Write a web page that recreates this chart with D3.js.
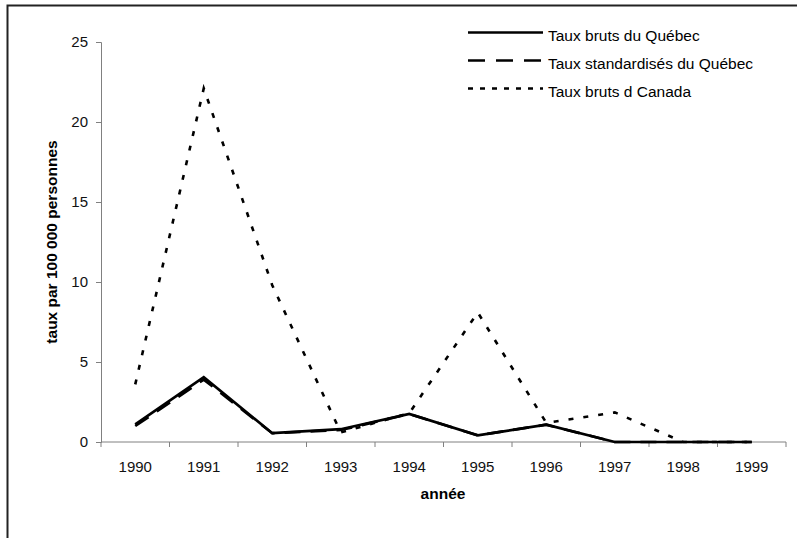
<!DOCTYPE html>
<meta charset="utf-8">
<script src="https://d3js.org/d3.v7.js"></script>
<style>
  body { margin: 0; background: #fff; }
  text { font-family: "Liberation Sans", Arial, sans-serif; }
</style>
<div id="my_dataviz"></div>
<script>

// data
var years = ["1990","1991","1992","1993","1994","1995","1996","1997","1998","1999"];
var brutsQuebec = [1.1, 4.05, 0.55, 0.8, 1.75, 0.42, 1.08, 0, 0, 0];
var standardQuebec = [1.0, 3.9, 0.55, 0.75, 1.75, 0.42, 1.08, 0, 0, 0];
var brutsCanada = [3.6, 22.1, 9.8, 0.6, 1.8, 8.1, 1.2, 1.85, 0, 0];
var yTicks = [0, 5, 10, 15, 20, 25];

var series = [
  {name: "Taux bruts du Québec", values: brutsQuebec, dash: null, legDash: null, width: 2.7},
  {name: "Taux standardisés du Québec", values: standardQuebec, dash: "16,10", legDash: "17,11", width: 2.7},
  {name: "Taux bruts d Canada", values: brutsCanada, dash: "5,10", legDash: "5,7", width: 2.6}
];

var W = 797, H = 538;
var margin = {top: 42, left: 101, right: 11, bottom: 96};

var svg = d3.select("#my_dataviz").append("svg")
    .attr("width", W)
    .attr("height", H);

// frame (top + left only visible)
svg.append("path")
  .attr("d", "M7.5,538V5.5H797")
  .attr("fill", "none")
  .attr("stroke", "#222")
  .attr("stroke-width", 2);

var xScale = d3.scaleBand()
    .domain(years)
    .range([margin.left, W - margin.right]);

var yScale = d3.scaleLinear()
    .domain([0, 25])
    .range([H - margin.bottom, margin.top]);

// y axis
var yAxis = d3.axisLeft(yScale).tickValues(yTicks).tickSize(5).tickPadding(8);
var gy = svg.append("g")
  .attr("transform", "translate(" + margin.left + ",0)")
  .call(yAxis);
gy.select(".domain").attr("stroke", "#808080");
gy.selectAll("line").attr("stroke", "#808080");
gy.selectAll("text").style("font-size", "15px").attr("fill", "#111")
  .style("font-family", "'Liberation Sans', Arial, sans-serif");

// x axis with ticks between categories
var xAxis = d3.axisBottom(xScale).tickSize(0);
var gx = svg.append("g")
  .attr("transform", "translate(0," + yScale(0) + ")")
  .call(xAxis);
gx.select(".domain").remove();
gx.selectAll("text").attr("y", 19).style("font-size", "15px").attr("fill", "#111")
  .style("font-family", "'Liberation Sans', Arial, sans-serif");
gx.append("line")
  .attr("x1", margin.left).attr("x2", W - margin.right)
  .attr("stroke", "#808080");
var bounds = years.map(function(d) { return xScale(d); }).concat([xScale(years[years.length - 1]) + xScale.bandwidth()]);
gx.selectAll(".sep")
  .data(bounds)
  .enter()
  .append("line")
    .attr("x1", function(d) { return d; })
    .attr("x2", function(d) { return d; })
    .attr("y1", 0)
    .attr("y2", 5)
    .attr("stroke", "#808080");

// axis titles
svg.append("text")
  .attr("transform", "translate(57," + ((margin.top + H - margin.bottom) / 2) + ")rotate(-90)")
  .attr("text-anchor", "middle")
  .style("font-size", "15.5px")
  .style("font-weight", "bold")
  .text("taux par 100 000 personnes");

svg.append("text")
  .attr("x", 443)
  .attr("y", 499)
  .attr("text-anchor", "middle")
  .style("font-size", "15.5px")
  .style("font-weight", "bold")
  .text("année");

// lines
var line = d3.line()
  .x(function(d, i) { return xScale(years[i]) + xScale.bandwidth() / 2; })
  .y(function(d) { return yScale(d); });

svg.selectAll(".series")
  .data(series.slice().reverse())
  .enter()
  .append("path")
    .attr("d", function(d) { return line(d.values); })
    .attr("fill", "none")
    .attr("stroke", "#000")
    .attr("stroke-width", function(d) { return d.width; })
    .attr("stroke-dasharray", function(d) { return d.dash; });

// legend
var legend = svg.selectAll(".legend")
  .data(series)
  .enter()
  .append("g")
    .attr("transform", function(d, i) { return "translate(468," + (32.5 + i * 28) + ")"; });

legend.append("line")
  .attr("x1", 0).attr("x2", 75)
  .attr("stroke", "#000")
  .attr("stroke-width", function(d) { return d.width; })
  .attr("stroke-dasharray", function(d) { return d.legDash; });

legend.append("text")
  .attr("x", 80)
  .attr("y", 8)
  .style("font-size", "15.5px")
  .text(function(d) { return d.name; });

</script>
